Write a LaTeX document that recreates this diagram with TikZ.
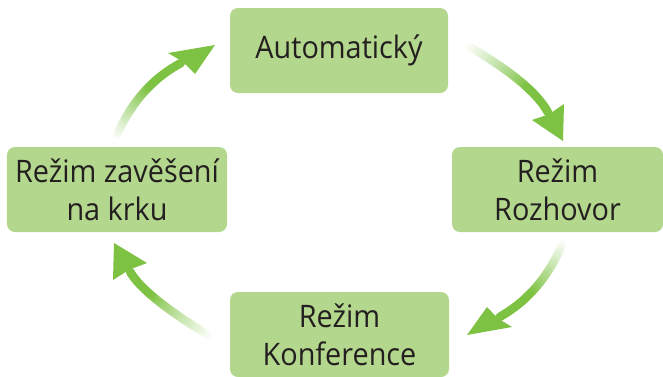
\documentclass[tikz,border=0pt]{standalone}
\usepackage{fontspec}
\setmainfont{Open Sans}[FakeStretch=0.93]
\usetikzlibrary{calc}
\definecolor{boxgreen}{HTML}{B3D78C}
\definecolor{arrowgreen}{HTML}{7DC242}
\definecolor{textdark}{HTML}{231F20}
\newcommand\gradarrow[6]{%
 \foreach \i in {1,...,40}{%
  \pgfmathsetmacro\ta{(\i-1)/40}%
  \pgfmathsetmacro\tb{\i/40}%
  \pgfmathsetmacro\pc{min(100,\tb*160)}%
  \path ($(#1)!\ta!(#2)$) coordinate (ga1) ($(#2)!\ta!(#3)$) coordinate (ga2)
        ($(ga1)!\ta!(ga2)$) coordinate (gA)
        ($(#1)!\tb!(#2)$) coordinate (gb1) ($(#2)!\tb!(#3)$) coordinate (gb2)
        ($(gb1)!\tb!(gb2)$) coordinate (gB);
  \draw[line width=8.5bp, line cap=round, draw=arrowgreen!\pc!white] (gA) -- (gB);
 }%
 \fill[arrowgreen] (#4) -- (#5) -- ($(#3)!0.06!(#4)$) -- (#6) -- cycle;
}
\tikzset{
  modebox/.style={fill=boxgreen, rounded corners=8bp, text=textdark, align=center,
    inner sep=0pt, font=\fontsize{31bp}{38bp}\selectfont},
}
\begin{document}
\begin{tikzpicture}[x=1bp,y=-1bp]
\useasboundingbox (0,0) rectangle (663,376);
\node[modebox, minimum width=218bp, minimum height=85bp] (auto) at (339,50.5) {Automatický};
\node[modebox, minimum width=211bp, minimum height=85bp] (rozh) at (557.5,189.5) {Režim\\Rozhovor};
\node[modebox, minimum width=220bp, minimum height=85bp] (zav) at (117,189.5) {Režim zavěšení\\na krku};
\node[modebox, minimum width=219bp, minimum height=85bp] (konf) at (339.5,334.5) {Režim\\Konference};
% arrow 1
\coordinate (s1) at (470,47); \coordinate (c1) at (532.6,83.8); \coordinate (m1) at (548,112.5);
\coordinate (t1) at (563,141); \coordinate (b1a) at (532,120); \coordinate (b1b) at (564,104);
% arrow 2
\coordinate (s2) at (562,245); \coordinate (c2) at (540.7,294); \coordinate (m2) at (499.5,317);
\coordinate (t2) at (467,335); \coordinate (b2a) at (512,327); \coordinate (b2b) at (487,307);
% arrow 3
\coordinate (s3) at (208,335); \coordinate (c3) at (143.6,295.6); \coordinate (m3) at (130,271.5);
\coordinate (t3) at (114,243); \coordinate (b3a) at (147,263); \coordinate (b3b) at (113,280);
% arrow 4
\coordinate (s4) at (117,135); \coordinate (c4) at (138.4,85.8); \coordinate (m4) at (181,63);
\coordinate (t4) at (215,45); \coordinate (b4a) at (168,53); \coordinate (b4b) at (195,74);
\gradarrow{s1}{c1}{m1}{t1}{b1a}{b1b}
\gradarrow{s2}{c2}{m2}{t2}{b2a}{b2b}
\gradarrow{s3}{c3}{m3}{t3}{b3a}{b3b}
\gradarrow{s4}{c4}{m4}{t4}{b4a}{b4b}
\end{tikzpicture}
\end{document}
